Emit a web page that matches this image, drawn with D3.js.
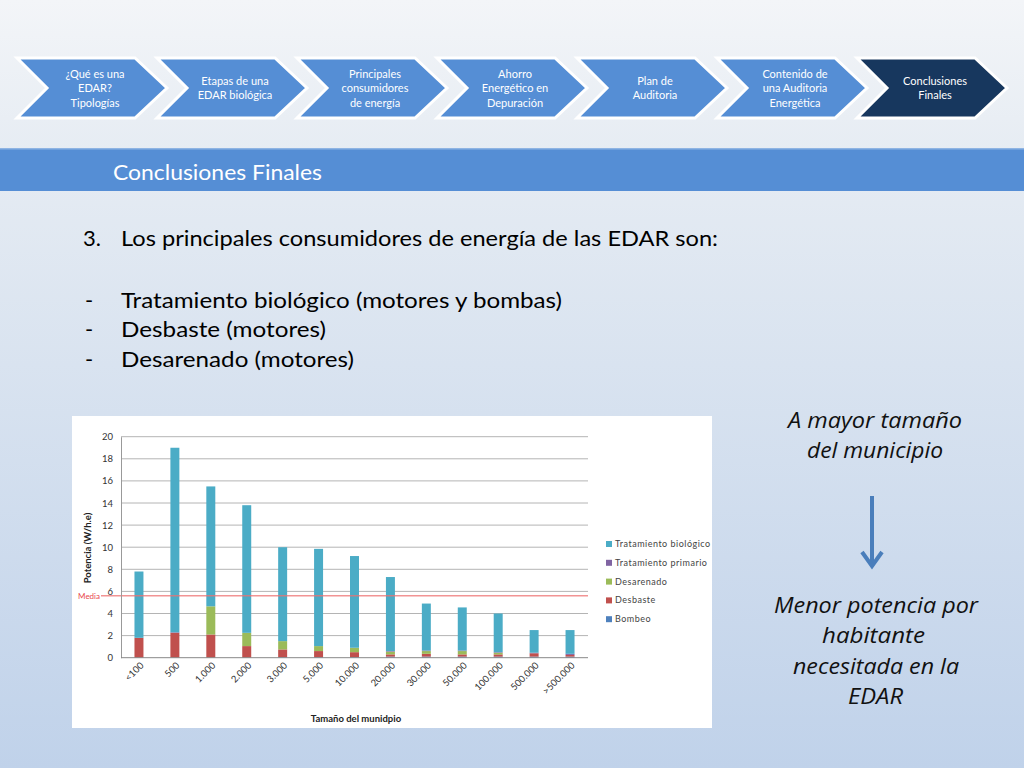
<!DOCTYPE html>
<html><head><meta charset="utf-8">
<script src="https://cdn.jsdelivr.net/npm/d3@7"></script>
<style>html,body{margin:0;padding:0;overflow:hidden;background:#fff}</style>
</head><body><svg id="s" width="1024" height="768"></svg>
<script>
// ---- data ----
const steps = [["¿Qué es una","EDAR?","Tipologías"],["Etapas de una","EDAR biológica"],["Principales","consumidores","de energía"],["Ahorro","Energético en","Depuración"],["Plan de","Auditoria"],["Contenido de","una Auditoria","Energética"],["Conclusiones","Finales"]];
const categories = ["<100","500","1.000","2.000","3.000","5.000","10.000","20.000","30.000","50.000","100.000","500.000",">500.000"];
const bombeo      = [0,0,0,0,0.05,0.05,0.05,0.1,0.1,0.1,0.1,0.1,0.1];
const desbaste    = [1.8,2.25,2.1,1.05,0.7,0.55,0.45,0.2,0.25,0.2,0.2,0.3,0.15];
const desarenado  = [0,0,2.55,1.2,0.75,0.45,0.4,0.25,0.25,0.3,0.15,0,0];
const primario    = [0,0.05,0,0,0,0,0,0.05,0.05,0.05,0.05,0.05,0.1];
const biologico   = [6.0,16.7,10.85,11.55,8.5,8.8,8.3,6.7,4.25,3.9,3.5,2.05,2.15];
const seriesNames = ["Bombeo","Desbaste","Desarenado","Tratamiento primario","Tratamiento biológico"];
const seriesColors = ["#4f81bd","#c0504d","#9bbb59","#8064a2","#4bacc6"];
const yTicks = [0,2,4,6,8,10,12,14,16,18,20];
const mediaValue = 5.6;

const svg = d3.select("#s");
const defs = svg.append("defs");
const g1 = defs.append("linearGradient").attr("id","bg").attr("x1",0).attr("y1",0).attr("x2",0).attr("y2",1);
g1.append("stop").attr("offset","0%").attr("stop-color","#f3f5f8");
g1.append("stop").attr("offset","20%").attr("stop-color","#e6ecf3");
g1.append("stop").attr("offset","100%").attr("stop-color","#c0d2ea");
svg.append("rect").attr("width",1024).attr("height",768).attr("fill","url(#bg)");

// ---- chevrons ----
const chev = svg.append("g");
steps.forEach((lines,i)=>{
  const x0 = 17 + i*140, top=58, bot=118, mid=88;
  const pts = [[x0,top],[x0+118,top],[x0+150,mid],[x0+118,bot],[x0,bot],[x0+30,mid]];
  chev.append("polygon").attr("points",pts.map(p=>p.join(",")).join(" "))
    .attr("fill", i===6 ? "#17375e" : "#558ed5")
    .attr("stroke","#ffffff").attr("stroke-width",3).attr("stroke-linejoin","miter");
  const cx = x0+78, n=lines.length, lh=14.5;
  lines.forEach((t,j)=>{
    chev.append("text").attr("x",cx).attr("y",mid + (j-(n-1)/2)*lh + 4)
      .attr("text-anchor","middle").attr("fill","#fff")
      .attr("font-family","Lato, 'Open Sans', sans-serif").attr("font-size",11).text(t);
  });
});

// ---- title bar ----
svg.append("rect").attr("x",0).attr("y",148).attr("width",1024).attr("height",43).attr("fill","#558ed5");
svg.append("rect").attr("x",0).attr("y",148).attr("width",1024).attr("height",1.5).attr("fill","#8fb4e3");
svg.append("text").attr("x",113).attr("y",180).attr("fill","#fff")
  .attr("font-family","Lato, sans-serif").attr("font-size",21)
  .attr("textLength",209).attr("lengthAdjust","spacingAndGlyphs").text("Conclusiones Finales");

// ---- body text ----
const body = svg.append("g").attr("font-family","Lato, 'Open Sans', sans-serif").attr("font-size",22).attr("fill","#000");
body.append("text").attr("x",83).attr("y",246).text("3.");
body.append("text").attr("x",121).attr("y",246).attr("textLength",597).attr("lengthAdjust","spacingAndGlyphs").text("Los principales consumidores de energía de las EDAR son:");
const bullets = [["Tratamiento biológico (motores y bombas)",308,441],["Desbaste (motores)",337,205],["Desarenado (motores)",367,233]];
bullets.forEach(b=>{
  body.append("text").attr("x",85).attr("y",b[1]).text("-");
  body.append("text").attr("x",121).attr("y",b[1]).attr("textLength",b[2]).attr("lengthAdjust","spacingAndGlyphs").text(b[0]);
});

// ---- right text ----
const rt = svg.append("g").attr("font-family","'Open Sans', Lato, sans-serif").attr("font-style","italic").attr("font-size",21).attr("fill","#111");
[["A mayor tamaño",428,788,174],["del municipio",458,807,136],["Menor potencia por",613,774,204],["habitante",643,822,103],["necesitada en la",674,793,166],["EDAR",704,848,55]].forEach(d=>{
  rt.append("text").attr("x",d[2]).attr("y",d[1]).attr("textLength",d[3]).attr("lengthAdjust","spacingAndGlyphs").text(d[0]);
});
svg.append("line").attr("x1",872).attr("y1",496).attr("x2",872).attr("y2",565).attr("stroke","#4a7ebb").attr("stroke-width",4);
svg.append("path").attr("d","M862,552 L872,566 L882,552").attr("fill","none").attr("stroke","#4a7ebb").attr("stroke-width",4).attr("stroke-linejoin","miter");

// ---- chart panel ----
svg.append("rect").attr("x",72).attr("y",416).attr("width",640).attr("height",312).attr("fill","#fff");
const ch = svg.append("g").attr("font-family","Lato, 'Open Sans', sans-serif");
const x = d3.scaleBand().domain(categories).range([121,588]).paddingInner(0.75).paddingOuter(0.375);
const y = d3.scaleLinear().domain([0,20]).range([657.7,436.7]);

// gridlines
ch.append("g").selectAll("line").data(yTicks.slice(1)).join("line")
  .attr("x1",121).attr("x2",588).attr("y1",d=>y(d)).attr("y2",d=>y(d))
  .attr("stroke","#b4b4b4").attr("stroke-width",1);

// stacked bars
const rows = categories.map((c,i)=>({cat:c,"Bombeo":bombeo[i],"Desbaste":desbaste[i],"Desarenado":desarenado[i],"Tratamiento primario":primario[i],"Tratamiento biológico":biologico[i]}));
const stack = d3.stack().keys(seriesNames)(rows);
ch.append("g").selectAll("g").data(stack).join("g").attr("fill",(d,i)=>seriesColors[i])
  .selectAll("rect").data(d=>d).join("rect")
  .attr("x",d=>x(d.data.cat)).attr("width",x.bandwidth())
  .attr("y",d=>y(d[1])).attr("height",d=>Math.max(0,y(d[0])-y(d[1])));

// media line
ch.append("line").attr("x1",101).attr("x2",588).attr("y1",y(mediaValue)).attr("y2",y(mediaValue))
  .attr("stroke","#ee7070").attr("stroke-opacity",0.75).attr("stroke-width",1.6);
ch.append("text").attr("x",100).attr("y",y(mediaValue)+3).attr("text-anchor","end")
  .attr("fill","#e8474c").attr("font-size",8).text("Media");

// y axis
const ya = ch.append("g").attr("transform","translate(121,0)")
  .call(d3.axisLeft(y).tickValues(yTicks).tickSize(0).tickPadding(8));
ya.select(".domain").attr("stroke","#999");
ya.selectAll("text").attr("font-size",9.5).attr("fill","#333").attr("font-family","Lato, sans-serif");

// x axis
const xa = ch.append("g").attr("transform","translate(0,657.7)")
  .call(d3.axisBottom(x).tickSize(0).tickPadding(6));
xa.select(".domain").attr("stroke","#888").attr("d","M121,0H588");
xa.selectAll("text").attr("font-size",9.5).attr("fill","#333").attr("font-family","Lato, sans-serif")
  .attr("text-anchor","end").attr("x",0).attr("y",0).attr("dy","0.35em")
  .attr("transform","translate(3,6) rotate(-45)");

// axis titles
ch.append("text").attr("transform","translate(91,548) rotate(-90)").attr("text-anchor","middle")
  .attr("font-size",9.5).attr("font-weight","bold").attr("fill","#222").text("Potencia  (W/h.e)");
ch.append("text").attr("x",356).attr("y",722).attr("text-anchor","middle")
  .attr("font-size",9.5).attr("font-weight","bold").attr("fill","#222").text("Tamaño del munidpio");

// legend (reverse order)
const legendOrder = seriesNames.map((n,i)=>({n,c:seriesColors[i]})).reverse();
const lg = ch.append("g");
legendOrder.forEach((d,i)=>{
  const ly = 544 + i*18.8;
  lg.append("rect").attr("x",606).attr("y",ly-3).attr("width",6).attr("height",6).attr("fill",d.c);
  lg.append("text").attr("x",615).attr("y",ly+3).attr("font-size",9).attr("fill","#444")
    .attr("letter-spacing",0.5).text(d.n);
});
</script></body></html>
